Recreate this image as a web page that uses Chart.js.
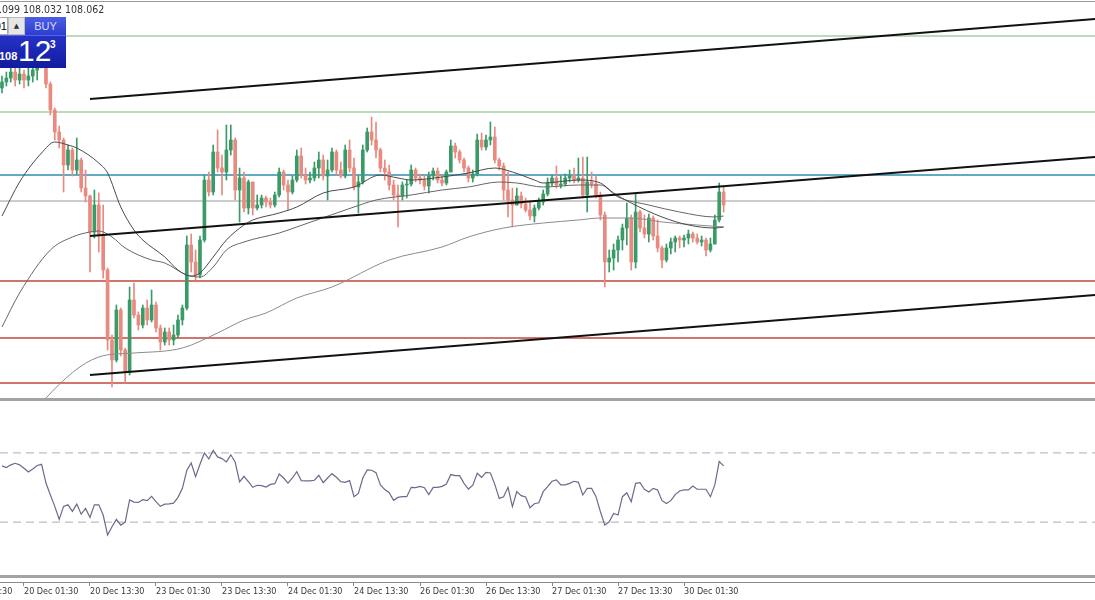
<!DOCTYPE html>
<html>
<head>
<meta charset="utf-8">
<script src="https://cdn.jsdelivr.net/npm/chart.js@4/dist/chart.umd.min.js"></script>
<style>
  body { margin: 0; background: #fff; width: 1095px; height: 600px; overflow: hidden; position: relative; }
  canvas { position: absolute; left: 0; }
  #price { top: 0; }
  #rsi { top: 401px; }
  .sep { position: absolute; left: 0; width: 1095px; background: #a3a3a3; }
  #ohlc { position: absolute; left: -19px; top: 3px; font: 10.5px "Liberation Sans Narrow", "DejaVu Sans Condensed", sans-serif; color: #333; white-space: nowrap; }
  #lot { position: absolute; left: -22px; top: 17px; width: 28px; height: 16px; background: #fff; border: 1px solid #aaa; font: 11px "Liberation Sans", sans-serif; text-align: right; line-height: 16px; color: #000; }
  #up { position: absolute; left: 8px; top: 17px; width: 15px; height: 16px; background: #e6e6e6; border: 1px solid #bbb; font: 7px "DejaVu Sans", sans-serif; text-align: center; line-height: 16px; color: #333; }
  #buy { position: absolute; left: 25px; top: 17px; width: 41px; height: 18px; background: linear-gradient(#4d5ee2, #2d3dd0); color: #d6dcff; font: 11px "Liberation Sans", sans-serif; text-align: center; line-height: 18px; }
  #quote { position: absolute; left: 0; top: 35px; width: 66px; height: 32px; background: linear-gradient(#2532c6, #111c9e); border-top: 1px solid #5564e6; color: #fff; font-family: "Liberation Sans", sans-serif; }
  #quote .s { position: absolute; left: -1px; top: 14px; font-size: 11px; font-weight: bold; }
  #quote .b { position: absolute; left: 18px; top: -2px; font-size: 30px; }
  #quote .p { position: absolute; left: 50px; top: 3px; font-size: 10px; font-weight: bold; }
</style>
</head>
<body>
<canvas id="price" width="1095" height="398"></canvas>
<div class="sep" style="top:1px;height:1px;background:#999"></div>
<div class="sep" style="top:398px;height:3px"></div>
<canvas id="rsi" width="1095" height="199"></canvas>
<div class="sep" style="top:575px;height:3px"></div>
<div id="ohlc">108.099 108.032 108.062</div>
<div id="lot">0.01</div>
<div id="up">▲</div>
<div id="buy">BUY</div>
<div id="quote"><span class="s">108</span><span class="b">12</span><span class="p">3</span></div>
<script>
// H1 candles, open = previous close
const firstOpen = 108.560;
const closes = [
  108.590,108.610,108.640,108.600,108.630,108.600,108.620,108.650,108.690,108.700,
  108.580,108.450,108.340,108.300,108.175,108.250,108.150,108.200,108.060,108.020,
  107.840,107.975,107.825,107.650,107.300,107.200,107.450,107.250,107.140,107.500,
  107.425,107.375,107.460,107.400,107.475,107.360,107.290,107.340,107.300,107.325,
  107.400,107.460,107.775,107.690,107.625,107.800,108.100,108.040,108.240,108.160,
  108.140,108.250,108.300,108.050,108.110,107.960,108.090,107.960,107.975,108.010,
  107.990,107.975,108.025,108.140,108.075,108.040,108.100,108.220,108.125,108.100,
  108.110,108.160,108.200,108.120,108.150,108.240,108.150,108.120,108.250,108.160,
  108.065,108.090,108.250,108.340,108.300,108.250,108.160,108.140,108.075,108.025,
  108.020,108.075,108.080,108.150,108.110,108.100,108.070,108.120,108.145,108.100,
  108.085,108.140,108.270,108.240,108.200,108.160,108.110,108.130,108.300,108.265,
  108.300,108.315,108.200,108.170,108.050,108.000,107.975,108.020,107.980,107.950,
  107.920,107.960,107.990,108.030,108.085,108.110,108.075,108.080,108.110,108.120,
  108.100,108.110,108.025,108.090,108.080,108.025,107.925,107.690,107.710,107.750,
  107.800,107.860,107.910,107.690,107.940,107.860,107.830,107.910,107.820,107.760,
  107.700,107.760,107.790,107.810,107.800,107.810,107.830,107.810,107.790,107.800,
  107.750,107.780,107.900,108.040,107.975
];
const highs = [
  108.620,108.640,108.670,108.660,108.660,108.650,108.660,108.670,108.725,108.740,
  108.690,108.590,108.460,108.370,108.310,108.275,108.260,108.310,108.210,108.150,
  108.025,108.050,108.035,107.975,107.660,107.325,107.475,107.460,107.260,107.565,
  107.585,107.440,107.475,107.500,107.550,107.490,107.375,107.360,107.360,107.375,
  107.425,107.475,107.820,107.830,107.750,107.820,108.125,108.140,108.275,108.350,
  108.225,108.375,108.375,108.310,108.160,108.140,108.100,108.090,108.025,108.025,
  108.020,108.010,108.040,108.160,108.150,108.100,108.120,108.250,108.260,108.160,
  108.140,108.190,108.240,108.225,108.200,108.260,108.250,108.190,108.275,108.300,
  108.210,108.120,108.275,108.360,108.415,108.390,108.260,108.200,108.175,108.100,
  108.075,108.090,108.100,108.175,108.160,108.130,108.125,108.140,108.160,108.160,
  108.125,108.150,108.300,108.285,108.250,108.210,108.170,108.150,108.330,108.335,
  108.325,108.390,108.365,108.210,108.185,108.140,108.060,108.060,108.040,108.010,
  107.990,107.975,108.010,108.050,108.110,108.125,108.170,108.120,108.130,108.150,
  108.160,108.210,108.215,108.215,108.140,108.120,108.040,107.940,107.750,107.780,
  107.820,107.880,107.985,107.925,108.035,107.950,107.925,107.930,107.920,107.900,
  107.770,107.780,107.810,107.820,107.820,107.825,107.850,107.840,107.830,107.820,
  107.810,107.810,107.925,108.085,108.070
];
const lows = [
  108.535,108.570,108.590,108.570,108.580,108.560,108.570,108.590,108.600,108.660,
  108.560,108.425,108.300,108.260,108.040,108.150,108.120,108.130,108.040,107.990,
  107.640,107.810,107.740,107.610,107.250,107.065,107.190,107.220,107.085,107.125,
  107.410,107.350,107.360,107.375,107.390,107.340,107.250,107.275,107.275,107.275,
  107.310,107.375,107.450,107.640,107.600,107.610,107.790,108.020,108.025,108.140,
  108.025,108.100,108.225,108.000,107.890,107.940,107.930,107.925,107.950,107.960,
  107.965,107.960,107.965,108.015,108.050,107.950,108.030,108.090,108.110,108.080,
  108.085,108.095,108.110,108.100,108.000,108.140,108.125,108.110,108.110,108.140,
  108.050,107.935,108.080,108.240,108.275,108.210,108.140,108.100,108.050,108.000,
  107.865,108.000,108.010,108.070,108.090,108.080,108.050,108.035,108.100,108.085,
  108.070,108.075,108.140,108.210,108.185,108.140,108.090,108.090,108.120,108.250,
  108.250,108.275,108.185,108.150,108.000,107.915,107.865,107.980,107.960,107.940,
  107.900,107.890,107.950,107.975,108.020,108.070,108.060,108.060,108.070,108.090,
  108.085,108.090,108.010,107.940,108.060,108.010,107.900,107.565,107.640,107.650,
  107.690,107.750,107.775,107.650,107.660,107.840,107.810,107.790,107.800,107.740,
  107.660,107.690,107.730,107.740,107.760,107.765,107.780,107.790,107.780,107.770,
  107.720,107.740,107.800,107.890,107.940
];

// moving averages, [bar, value]
const maFast = [
  [0,107.92],[4,108.09],[9,108.235],[12,108.29],[15,108.275],[17,108.26],[22,108.185],[24,108.135],
  [27,107.965],[30,107.85],[32,107.80],[37,107.715],[40,107.65],[43,107.62],[45,107.635],[48,107.715],
  [51,107.80],[55,107.875],[57,107.90],[63,107.935],[67,107.965],[73,108.035],[80,108.065],[86,108.125],
  [90,108.11],[93,108.10],[100,108.115],[106,108.135],[112,108.16],[116,108.14],[121,108.10],[123,108.085],
  [131,108.10],[136,108.085],[139,108.035],[143,107.985],[150,107.915],[156,107.875],[162,107.86],[164,107.865]
];
const maMid = [
  [0,107.365],[4,107.535],[11,107.75],[16,107.815],[20,107.84],[22,107.845],[25,107.815],[28,107.76],
  [34,107.70],[37,107.685],[42,107.625],[45,107.615],[48,107.665],[51,107.75],[55,107.79],[63,107.835],
  [67,107.865],[80,107.965],[85,108.00],[93,108.025],[100,108.05],[106,108.065],[113,108.09],[117,108.085],
  [123,108.065],[131,108.075],[136,108.075],[140,108.015],[147,107.975],[154,107.94],[162,107.915],[164,107.92]
];
const maSlow = [
  [9,106.98],[10,107.01],[22,107.215],[30,107.235],[41,107.26],[49,107.335],[55,107.40],[60,107.435],
  [67,107.51],[75,107.565],[88,107.70],[100,107.765],[106,107.815],[114,107.86],[123,107.885],[131,107.90],
  [136,107.91],[143,107.91],[150,107.89],[158,107.875],[164,107.865]
];

// horizontal levels and channel
const greenLevels = [108.82, 108.44];
const blueLevel = 108.125;
const grayLevel = 107.995;
const redLevels = [107.595, 107.31, 107.085];
const channelBars = [20, 248.4];
const channelTop = [108.505, 108.905];
const channelMid = [107.82, 108.215];
const channelLow = [107.125, 107.525];

// RSI
const rsi = [
  62.5,61.5,63.1,64.0,63.1,61.1,59.0,60.7,62.7,63.4,
  52.6,45.7,39.1,31.6,39.1,40.0,36.2,40.4,34.6,37.9,
  32.7,40.0,40.0,34.1,22.5,27.3,31.6,28.3,30.0,42.8,
  41.6,41.4,43.0,42.4,44.9,41.8,39.1,40.4,40.6,41.0,
  44.3,49.5,59.8,64.2,56.3,63.4,70.0,66.5,71.4,67.7,
  66.7,64.8,68.9,64.6,53.2,56.5,53.4,50.1,51.3,51.1,
  50.3,51.8,52.2,57.8,55.5,52.6,55.5,59.2,54.0,53.8,
  53.8,54.2,57.1,52.8,55.5,58.0,55.9,53.4,53.0,54.0,
  44.7,46.6,55.5,60.2,60.0,58.6,51.5,48.8,47.0,42.6,
  44.3,44.7,44.7,50.1,49.9,50.7,49.9,45.9,50.1,50.1,
  50.7,52.0,57.5,56.9,56.9,52.4,49.1,51.3,58.2,55.9,
  58.8,58.4,51.8,43.7,44.7,50.1,38.9,47.6,45.3,44.5,
  38.3,40.6,41.2,47.6,50.5,53.6,54.4,51.5,51.5,52.4,
  53.6,53.0,45.7,49.5,49.5,44.7,36.0,28.3,30.2,35.0,
  34.1,44.7,47.0,41.8,52.4,52.8,49.0,47.4,49.5,48.6,
  42.4,40.8,42.4,45.9,48.0,48.6,48.6,50.9,49.0,49.0,
  49.0,44.7,51.5,65.0,62.5
];
const rsiLevels = [70, 30];

// time axis
const tickBars = [-10, 5, 20, 35, 50, 65, 80, 95, 110, 125, 140, 155];
const tickLabels = ['19 Dec 13:30', '20 Dec 01:30', '20 Dec 13:30', '23 Dec 01:30', '23 Dec 13:30', '24 Dec 01:30',
  '24 Dec 13:30', '26 Dec 01:30', '26 Dec 13:30', '27 Dec 01:30', '27 Dec 13:30', '30 Dec 01:30'];

const xMin = -0.45, xMax = 248.4;
const upColor = '#3a9a68', downColor = '#e88a7f';

const opens = closes.map((c, i) => i === 0 ? firstOpen : closes[i - 1]);
const colors = closes.map((c, i) => c >= opens[i] ? upColor : downColor);

function hline(v, color, width) {
  return { type: 'line', data: [{ x: xMin, y: v }, { x: xMax, y: v }], borderColor: color, borderWidth: width, pointRadius: 0, order: 4 };
}
function seg(vals, width) {
  return { type: 'line', data: [{ x: channelBars[0], y: vals[0] }, { x: channelBars[1], y: vals[1] }], borderColor: '#111', borderWidth: width, pointRadius: 0, order: 0 };
}
function ma(pts, color) {
  return { type: 'line', data: pts.map(p => ({ x: p[0], y: p[1] })), borderColor: color, borderWidth: 1, pointRadius: 0, cubicInterpolationMode: 'monotone', order: 1 };
}

const datasets = [
  seg(channelTop, 2), seg(channelMid, 2), seg(channelLow, 2),
  ma(maFast, '#4a4a4a'), ma(maMid, '#666'), ma(maSlow, '#8c8c8c'),
  {
    type: 'bar', order: 2, grouped: false, barThickness: 3, minBarLength: 1,
    data: closes.map((c, i) => ({ x: i, y: [opens[i], c] })),
    backgroundColor: colors
  },
  {
    type: 'bar', order: 3, grouped: false, barThickness: 1,
    data: closes.map((c, i) => ({ x: i, y: [Math.min(lows[i], opens[i], c), Math.max(highs[i], opens[i], c)] })),
    backgroundColor: colors
  },
  ...greenLevels.map(v => hline(v, '#76b976', 1.2)),
  hline(blueLevel, '#2e8db0', 1.6),
  hline(grayLevel, '#9a9a9a', 1),
  ...redLevels.map(v => hline(v, '#c2473b', 1.3))
];

new Chart(document.getElementById('price'), {
  type: 'bar',
  data: { datasets },
  options: {
    responsive: false,
    animation: false,
    layout: { padding: 0 },
    plugins: { legend: { display: false }, tooltip: { enabled: false } },
    scales: {
      x: { type: 'linear', min: xMin, max: xMax, offset: false, display: false },
      y: { min: 107.01, max: 109.0, display: false }
    }
  }
});

new Chart(document.getElementById('rsi'), {
  type: 'line',
  data: {
    datasets: [
      { data: rsi.map((v, i) => ({ x: i, y: v })), borderColor: '#6c6a8c', borderWidth: 1.2, pointRadius: 0 },
      ...rsiLevels.map(v => ({
        data: [{ x: xMin, y: v }, { x: xMax, y: v }], borderColor: '#adadbd', borderWidth: 1,
        borderDash: [8, 5], pointRadius: 0
      }))
    ]
  },
  options: {
    responsive: false,
    animation: false,
    layout: { padding: 0 },
    plugins: { legend: { display: false }, tooltip: { enabled: false } },
    scales: {
      x: {
        type: 'linear', min: xMin, max: xMax, offset: false,
        afterFit: s => { s.height = 18; s.paddingLeft = 0; s.paddingRight = 0; },
        afterBuildTicks: s => { s.ticks = tickBars.map(v => ({ value: v })); },
        border: { color: '#8a8a8a' },
        grid: { drawOnChartArea: false, tickLength: 4, color: '#8a8a8a' },
        ticks: {
          align: 'start', padding: 0, autoSkip: false, minRotation: 0, maxRotation: 0, color: '#3a3a3a',
          font: { family: '"Liberation Sans Narrow", "DejaVu Sans Condensed", sans-serif', size: 9 },
          callback: v => tickLabels[tickBars.indexOf(v)]
        }
      },
      y: { min: -4.6, max: 100, display: false }
    }
  }
});
</script>
</body>
</html>
